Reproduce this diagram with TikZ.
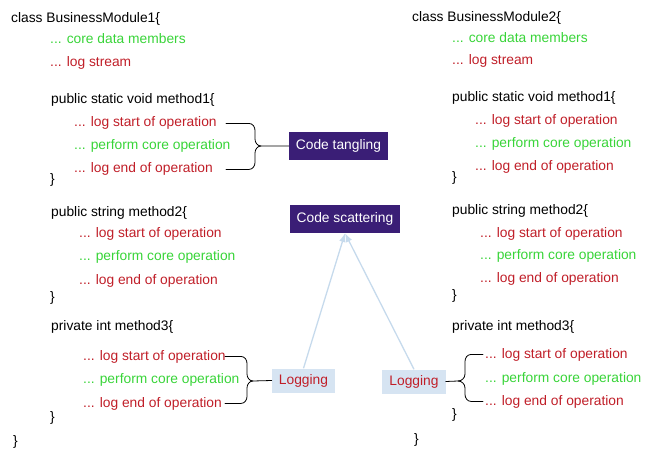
\documentclass[tikz,border=0pt]{standalone}
\usepackage{fontspec}
\setmainfont{Liberation Sans}
\usetikzlibrary{arrows.meta}

\definecolor{logred}{RGB}{192,30,40}
\definecolor{coregreen}{RGB}{56,212,56}
\definecolor{tagpurple}{RGB}{58,30,118}
\definecolor{logfill}{RGB}{214,228,242}
\definecolor{linkblue}{RGB}{198,218,236}

\begin{document}
\begin{tikzpicture}[x=1pt, y=-1pt, >=Latex,
    every node/.style={font=\fontsize{13.8}{16}\selectfont},
    code/.style={anchor=base west, inner sep=0pt},
    core/.style={code, text=coregreen},
    logt/.style={code, text=logred},
    tag/.style={fill=tagpurple, text=white, inner xsep=7pt, inner ysep=0pt, minimum height=28pt},
    logbox/.style={fill=logfill, text=logred, inner xsep=7pt, inner ysep=0pt, minimum height=24pt},
    brc/.style={thick, black, line cap=round},
    link/.style={->, line width=1.3pt, linkblue}]

    \useasboundingbox (0,0) rectangle (650,454);

    % --- 1. BusinessModule1 ---
    \node[code] (a) at (11,23) {class BusinessModule1\{};
    \node[core] (ad) at (50,44) {... core data members};
    \node[logt] (al) at (50,67) {... log stream};

    \node[code] (a1) at (51,104) {public static void method1\{};
    \node[logt] (a1s) at (74,127) {... log start of operation};
    \node[core] (a1p) at (74,150) {... perform core operation};
    \node[logt] (a1e) at (74,173) {... log end of operation};
    \node[code] (a1x) at (50,184) {\}};

    \node[code] (a2) at (51,217) {public string method2\{};
    \node[logt] (a2s) at (79,238) {... log start of operation};
    \node[core] (a2p) at (79,261) {... perform core operation};
    \node[logt] (a2e) at (79,284) {... log end of operation};
    \node[code] (a2x) at (50,301) {\}};

    \node[code] (a3) at (51,330) {private int method3\{};
    \node[logt] (a3s) at (83,360) {... log start of operation};
    \node[core] (a3p) at (83,383) {... perform core operation};
    \node[logt] (a3e) at (83,407) {... log end of operation};
    \node[code] (a3x) at (50,421) {\}};
    \node[code] (ax) at (13,445) {\}};

    % --- 2. BusinessModule2 ---
    \node[code] (b) at (412,22) {class BusinessModule2\{};
    \node[core] (bd) at (452,43) {... core data members};
    \node[logt] (bl) at (452,65) {... log stream};

    \node[code] (b1) at (452,102) {public static void method1\{};
    \node[logt] (b1s) at (475,125) {... log start of operation};
    \node[core] (b1p) at (475,148) {... perform core operation};
    \node[logt] (b1e) at (475,171) {... log end of operation};
    \node[code] (b1x) at (452,182) {\}};

    \node[code] (b2) at (452,215) {public string method2\{};
    \node[logt] (b2s) at (480,237) {... log start of operation};
    \node[core] (b2p) at (480,260) {... perform core operation};
    \node[logt] (b2e) at (480,283) {... log end of operation};
    \node[code] (b2x) at (452,299) {\}};

    \node[code] (b3) at (452,330) {private int method3\{};
    \node[logt] (b3s) at (485,358) {... log start of operation};
    \node[core] (b3p) at (485,382) {... perform core operation};
    \node[logt] (b3e) at (485,405) {... log end of operation};
    \node[code] (b3x) at (452,418) {\}};
    \node[code] (bx) at (414,443) {\}};

    % --- 3. Kennzeichnungen ---
    \node[tag] (tang) at (338.5,146) {Code tangling};
    \node[tag] (scat) at (345,219) {Code scattering};
    \node[logbox] (logA) at (303.5,380.5) {Logging};
    \node[logbox] (logB) at (414,381.5) {Logging};

    % --- 4. Klammern ---
    \coordinate (t0) at (226,0);
    \coordinate (ta) at (249,0);
    \coordinate (ta1) at (255,139);
    \coordinate (ta2) at (255,153);
    \coordinate (tip) at (261,146);
    \draw[brc] (a1s.east -| t0) -- (a1s.east -| ta) to[out=0,in=90] ++(6,7) -- (ta1)
        to[out=-90,in=180] (tip) -- (tang.west);
    \draw[brc] (a1e.east -| t0) -- (a1e.east -| ta) to[out=0,in=-90] ++(6,-7) -- (ta2)
        to[out=90,in=180] (tip);

    \coordinate (l0) at (225,0);
    \coordinate (la) at (241,0);
    \coordinate (la1) at (247,374);
    \coordinate (la2) at (247,388);
    \coordinate (ltip) at (253,381);
    \draw[brc] (a3s.east -| l0) -- (a3s.east -| la) to[out=0,in=90] ++(6,7) -- (la1)
        to[out=-90,in=180] (ltip) -- (logA.west);
    \draw[brc] (a3e.east -| l0) -- (a3e.east -| la) to[out=0,in=-90] ++(6,-7) -- (la2)
        to[out=90,in=180] (ltip);

    \coordinate (r0) at (483,0);
    \coordinate (ra) at (471,0);
    \coordinate (ra1) at (465,374);
    \coordinate (ra2) at (465,388);
    \coordinate (rtip) at (458,381);
    \draw[brc] (b3s.west -| r0) -- (b3s.west -| ra) to[out=180,in=90] ++(-6,7) -- (ra1)
        to[out=-90,in=0] (rtip) -- (logB.east);
    \draw[brc] (b3e.west -| r0) -- (b3e.west -| ra) to[out=180,in=-90] ++(-6,-7) -- (ra2)
        to[out=90,in=0] (rtip);

    % --- 5. Pfeile ---
    \draw[link] (logA.north) -- (scat.south);
    \draw[link] (logB.north) -- (scat.south);

\end{tikzpicture}
\end{document}
